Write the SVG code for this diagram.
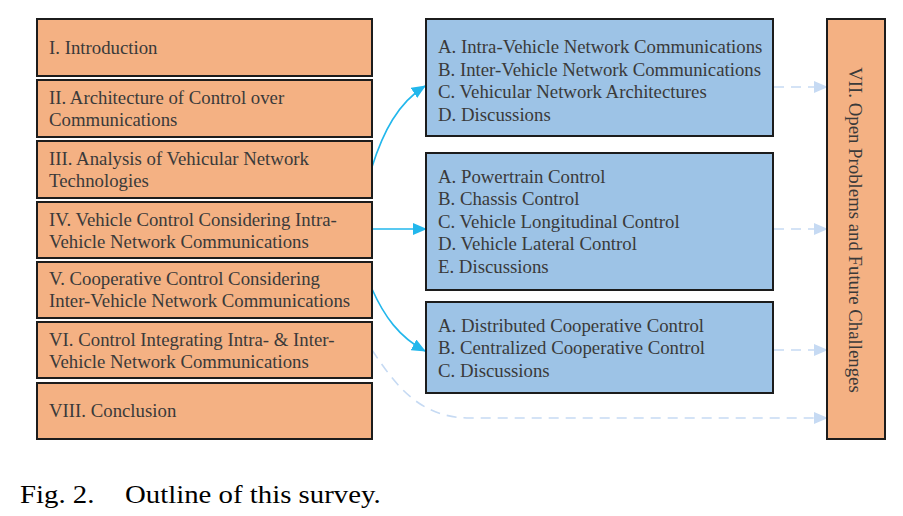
<svg xmlns="http://www.w3.org/2000/svg" width="903" height="516" viewBox="0 0 903 516">
<style>
.sec{fill:#F4B183;stroke:#1c1c1c;stroke-width:2}
.sub{fill:#9DC3E6;stroke:#1c1c1c;stroke-width:2}
.lbl{font-family:"Liberation Serif","Times New Roman",serif;font-size:18.8px;fill:#3a3a3a}
.cap{font-family:"Liberation Serif","Times New Roman",serif;font-size:25.5px;fill:#000}
.solid{fill:none;stroke:#22B7EC;stroke-width:1.6}
.dash{fill:none;stroke:#C6DAF3;stroke-width:1.6;stroke-dasharray:10 7}
</style>
<defs>
<marker id="ah" markerUnits="userSpaceOnUse" markerWidth="14" markerHeight="12" refX="13" refY="6" orient="auto">
<path d="M0,0 L14,6 L0,12 Z" fill="#22B7EC"/>
</marker>
<marker id="ahd" markerUnits="userSpaceOnUse" markerWidth="14" markerHeight="12" refX="13" refY="6" orient="auto">
<path d="M0,0 L14,6 L0,12 Z" fill="#C6DAF3"/>
</marker>
</defs>
<g id="connectors">
<path class="solid" d="M372,167 C383,132 398,103 425,86" marker-end="url(#ah)"/>
<path class="solid" d="M372,229 L426,229" marker-end="url(#ah)"/>
<path class="solid" d="M372,289 C384,316 399,337 425,351" marker-end="url(#ah)"/>
<path class="dash" d="M372,350 C396,386 420,418 470,418 L827,418" marker-end="url(#ahd)"/>
<path class="dash" d="M774,87 L827,87" marker-end="url(#ahd)"/>
<path class="dash" d="M774,229 L827,229" marker-end="url(#ahd)"/>
<path class="dash" d="M774,350 L827,350" marker-end="url(#ahd)"/>
</g>
<g font-family="Liberation Serif, Times New Roman, serif">
<g id="n1"><rect class="sec" x="37" y="19" width="335" height="57"/>
<text class="lbl" x="49" y="54">I. Introduction</text></g>
<g id="n2"><rect class="sec" x="37" y="80" width="335" height="57"/>
<text class="lbl" x="49" y="104">II. Architecture of Control over</text>
<text class="lbl" x="49" y="126">Communications</text></g>
<g id="n3"><rect class="sec" x="37" y="141" width="335" height="57"/>
<text class="lbl" x="49" y="165">III. Analysis of Vehicular Network</text>
<text class="lbl" x="49" y="187">Technologies</text></g>
<g id="n4"><rect class="sec" x="37" y="202" width="335" height="56"/>
<text class="lbl" x="49" y="226">IV. Vehicle Control Considering Intra-</text>
<text class="lbl" x="49" y="248">Vehicle Network Communications</text></g>
<g id="n5"><rect class="sec" x="37" y="262" width="335" height="56"/>
<text class="lbl" x="49" y="285">V. Cooperative Control Considering</text>
<text class="lbl" x="49" y="307">Inter-Vehicle Network Communications</text></g>
<g id="n6"><rect class="sec" x="37" y="322" width="335" height="56"/>
<text class="lbl" x="49" y="346">VI. Control Integrating Intra- &amp; Inter-</text>
<text class="lbl" x="49" y="368">Vehicle Network Communications</text></g>
<g id="n8"><rect class="sec" x="37" y="383" width="335" height="56"/>
<text class="lbl" x="49" y="417">VIII. Conclusion</text></g>
<g id="b1"><rect class="sub" x="426" y="19" width="347" height="117"/>
<text class="lbl" x="438" y="53">A. Intra-Vehicle Network Communications</text>
<text class="lbl" x="438" y="76">B. Inter-Vehicle Network Communications</text>
<text class="lbl" x="438" y="98">C. Vehicular Network Architectures</text>
<text class="lbl" x="438" y="121">D. Discussions</text></g>
<g id="b2"><rect class="sub" x="426" y="153" width="347" height="137"/>
<text class="lbl" x="438" y="183">A. Powertrain Control</text>
<text class="lbl" x="438" y="205">B. Chassis Control</text>
<text class="lbl" x="438" y="228">C. Vehicle Longitudinal Control</text>
<text class="lbl" x="438" y="250">D. Vehicle Lateral Control</text>
<text class="lbl" x="438" y="273">E. Discussions</text></g>
<g id="b3"><rect class="sub" x="426" y="302" width="347" height="91"/>
<text class="lbl" x="438" y="332">A. Distributed Cooperative Control</text>
<text class="lbl" x="438" y="354">B. Centralized Cooperative Control</text>
<text class="lbl" x="438" y="377">C. Discussions</text></g>
<g id="n7"><rect class="sec" x="827" y="19" width="58" height="420"/>
<text class="lbl" text-anchor="middle" transform="translate(849,230) rotate(90)">VII. Open Problems and Future Challenges</text></g>
<text class="cap" transform="translate(20,503) scale(1.13,1)">Fig. 2.</text>
<text class="cap" transform="translate(125,503) scale(1.13,1)">Outline of this survey.</text>
</g>
</svg>
